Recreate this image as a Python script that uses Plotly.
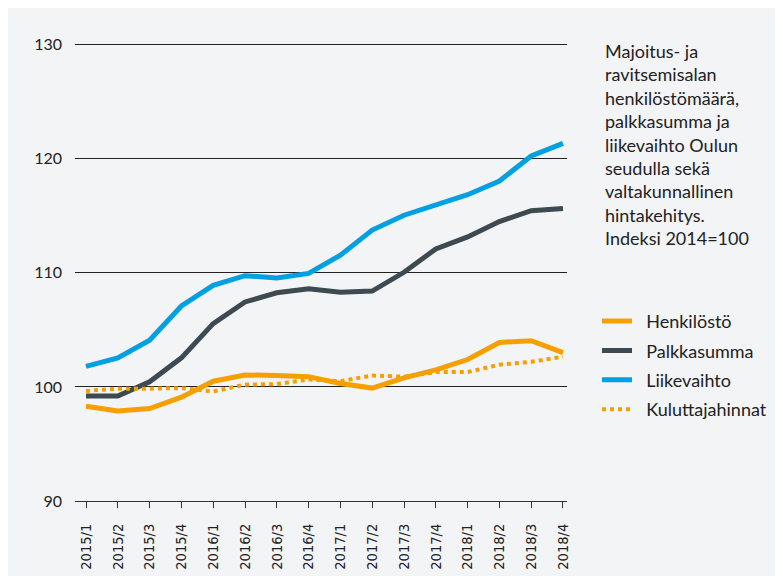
import plotly.graph_objects as go

quarters = ["2015/1", "2015/2", "2015/3", "2015/4", "2016/1", "2016/2", "2016/3", "2016/4",
            "2017/1", "2017/2", "2017/3", "2017/4", "2018/1", "2018/2", "2018/3", "2018/4"]
henkilosto = [98.3, 97.9, 98.1, 99.1, 100.5, 101.05, 101.0, 100.9,
              100.3, 99.9, 100.8, 101.5, 102.4, 103.9, 104.05, 103.0]
palkkasumma = [99.2, 99.2, 100.45, 102.55, 105.55, 107.45, 108.25, 108.6,
               108.3, 108.4, 110.05, 112.1, 113.15, 114.5, 115.45, 115.65]
liikevaihto = [101.8, 102.55, 104.1, 107.1, 108.9, 109.75, 109.55, 109.95,
               111.55, 113.75, 115.05, 115.95, 116.85, 118.05, 120.25, 121.35]
kuluttajahinnat = [99.65, 99.85, 99.85, 99.9, 99.6, 100.2, 100.25, 100.65,
                   100.5, 101.0, 100.9, 101.3, 101.3, 101.95, 102.2, 102.65]
y_ticks = [90, 100, 110, 120, 130]

title_text = ("Majoitus- ja<br>ravitsemisalan<br>henkilöstömäärä,<br>palkkasumma ja<br>"
              "liikevaihto Oulun<br>seudulla sekä<br>valtakunnallinen<br>hintakehitys.<br>"
              "Indeksi 2014=100")

ORANGE = "#f5a000"
DARK = "#3d4a51"
BLUE = "#00a0e3"
FONT = "Lato, 'Noto Sans', sans-serif"
PAD = "\u00a0\u00a0"

fig = go.Figure()
series = [
    ("Henkilöstö", henkilosto, dict(color=ORANGE, width=5)),
    ("Palkkasumma", palkkasumma, dict(color=DARK, width=5)),
    ("Liikevaihto", liikevaihto, dict(color=BLUE, width=5)),
    ("Kuluttajahinnat", kuluttajahinnat, dict(color=ORANGE, width=4, dash="dot")),
]
for name, vals, line in series:
    fig.add_trace(go.Scatter(x=quarters, y=vals, name=PAD + name, mode="lines", line=line,
                             legendgroup=name, hovertemplate=name + ": %{y}<extra>%{x}</extra>"))

# the page body adds an 8px offset; positions below are in screen pixels
OFF = 8
FW, FH = 783, 576
Y_MIN, Y_MAX = 90, 130.5
PX_PER_UNIT = (501 - 45) / 40.0
L, R = 75 - OFF, 567 - OFF
B = 501 - OFF
T = B - (Y_MAX - Y_MIN) * PX_PER_UNIT
W, H = R - L, B - T


def px(xs):
    return (xs - OFF - L) / W


def py(ys):
    return (B - (ys - OFF)) / H


# rounded background panel
x0, x1 = px(3), px(820)
y0, y1 = py(620), py(7)
rx, ry = 12 / W, 12 / H
path = (f"M {x0},{y0} L {x0},{y1 - ry} Q {x0},{y1} {x0 + rx},{y1} "
        f"L {x1},{y1} L {x1},{y0} Z")
fig.add_shape(type="path", path=path, xref="paper", yref="paper",
              fillcolor="#f3f4f6", line=dict(width=0), layer="below")

fig.add_annotation(text=title_text, xref="paper", yref="paper", x=px(603), y=py(38),
                   xanchor="left", yanchor="top", align="left", showarrow=False,
                   font=dict(family=FONT, size=18, color="#222222"))

fig.update_layout(
    width=FW, height=FH,
    margin=dict(l=L, r=FW - R, t=T, b=FH - B, autoexpand=False),
    paper_bgcolor="white",
    plot_bgcolor="rgba(0,0,0,0)",
    showlegend=True,
    legend=dict(x=px(597), y=py(303), xanchor="left", yanchor="top",
                bgcolor="rgba(0,0,0,0)", traceorder="grouped", tracegroupgap=3,
                font=dict(family=FONT, size=18, color="#222222")),
    xaxis=dict(type="category", range=[-0.346, 15.126], showgrid=False, zeroline=False,
               showline=True, linecolor="#333333", linewidth=1, automargin=False,
               ticks="outside", ticklen=6, tickcolor="#333333", tickwidth=1,
               tickangle=-90, ticklabelstandoff=10,
               tickfont=dict(family="'DejaVu Sans Condensed', sans-serif",
                             size=14.5, color="#222222")),
    yaxis=dict(range=[Y_MIN, Y_MAX], tickvals=y_ticks, showgrid=True, gridcolor="#222222",
               gridwidth=1, zeroline=False, showline=False, ticklabelstandoff=12,
               automargin=False,
               tickfont=dict(family=FONT, size=16, color="#222222")),
)

fig.write_html("out.html")
